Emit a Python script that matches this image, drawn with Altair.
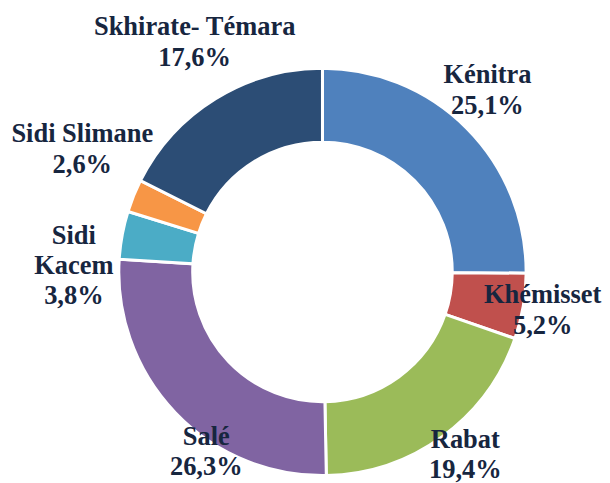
import altair as alt
import pandas as pd

categories = ["Kénitra", "Khémisset", "Rabat", "Salé", "Sidi Kacem", "Sidi Slimane", "Skhirate- Témara"]
display_names = ["Kénitra", "Khémisset", "Rabat", "Salé", "Sidi\nKacem", "Sidi Slimane", "Skhirate- Témara"]
shares = [25.1, 5.2, 19.4, 26.3, 3.8, 2.6, 17.6]
colors = ["#4F81BD", "#C0504D", "#9BBB59", "#8064A2", "#4BACC6", "#F79646", "#2C4D75"]

df = pd.DataFrame({
    "idx": list(range(len(categories))),
    "cat": categories,
    "value": shares,
    "label": [n + "\n" + f"{v:.1f}".replace(".", ",") + "%" for n, v in zip(display_names, shares)],
})

# label nudges (dx, dy) relative to radius 240 at slice mid-angle
nudges = {
    "Kénitra": (-5, -28),
    "Khémisset": (-16, -17),
    "Rabat": (2, -26),
    "Salé": (57, -1),
    "Sidi Kacem": (-13, 7),
    "Sidi Slimane": (-18, -48),
    "Skhirate- Témara": (-2, -41),
}

FONT = "Liberation Serif"

theta_scale = alt.Scale(domain=[0, 100], range=[0, 6.283185307179586])

base = alt.Chart(df).transform_window(
    cum="sum(value)", sort=[alt.SortField("idx")], frame=[None, 0]
).transform_calculate(
    start="datum.cum - datum.value",
    mid="datum.cum - datum.value / 2",
)

arcs = base.mark_arc(innerRadius=130, outerRadius=204, stroke="white", strokeWidth=3).encode(
    theta=alt.Theta("start:Q", scale=theta_scale),
    theta2="cum:Q",
    color=alt.Color("cat:N", scale=alt.Scale(domain=categories, range=colors), legend=None),
)

layers = [arcs]
for cat in categories:
    dx, dy = nudges[cat]
    layers.append(
        base.transform_filter(alt.datum.cat == cat).mark_text(
            radius=240, dx=dx, dy=dy,
            font=FONT, fontWeight="bold",
            fontSize=26.5, lineHeight=30.5, lineBreak="\n", color="#17263F",
            align="center", baseline="middle",
        ).encode(
            theta=alt.Theta("mid:Q", scale=theta_scale),
            text="label:N",
        )
    )

chart = alt.layer(*layers).properties(
    width=560, height=422,
    autosize=alt.AutoSizeParams(type="none"),
    padding={"left": 35, "top": 53, "right": 0, "bottom": 0},
).configure_view(stroke=None)

chart.save("out.html", embed_options={"renderer": "svg", "actions": False})
